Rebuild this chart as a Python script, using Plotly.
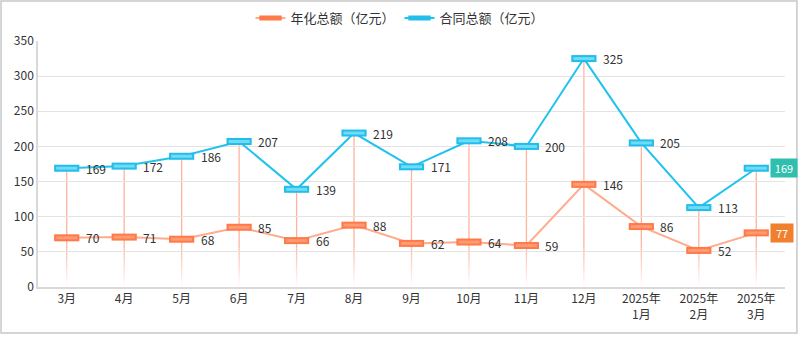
import plotly.graph_objects as go

categories = ["3月", "4月", "5月", "6月", "7月", "8月", "9月", "10月", "11月", "12月",
              "2025年<br>1月", "2025年<br>2月", "2025年<br>3月"]
annual_total = [70, 71, 68, 85, 66, 88, 62, 64, 59, 146, 86, 52, 77]
contract_total = [169, 172, 186, 207, 139, 219, 171, 208, 200, 325, 205, 113, 169]
name_annual = "年化总额（亿元）"
name_contract = "合同总额（亿元）"

FONT = "Noto Sans CJK SC, Microsoft YaHei, sans-serif"
ORANGE_LINE = "#ffab8e"
ORANGE_MK = "#ff7a4a"
ORANGE_FILL = "#ff9a72"
BLUE_LINE = "#1fc3ee"
BLUE_MK = "#22bde9"
BLUE_FILL = "#6fdcf7"

x = list(range(len(categories)))
fig = go.Figure()

# drop lines with fading bottom
shapes = []
for i, v in enumerate(contract_total):
    shapes.append(dict(type="line", xref="x", yref="y", x0=i, x1=i, y0=v, y1=60,
                       line=dict(color="#ffb39c", width=1.3), layer="below"))
    steps = 12
    for k in range(steps):
        y0 = 60 - k * 60 / steps
        y1 = 60 - (k + 1) * 60 / steps
        op = max(0.0, 1 - (k + 0.5) / steps)
        shapes.append(dict(type="line", xref="x", yref="y", x0=i, x1=i, y0=y0, y1=y1,
                           line=dict(color="#ffb39c", width=1.3), opacity=op, layer="below"))

# border
shapes.append(dict(type="rect", xref="paper", yref="paper", x0=-0.0495, x1=1.016,
                   y0=-0.187, y1=1.163, line=dict(color="#c8c8c8", width=1.5)))

for vals, name, lc, mk, fill in [(annual_total, name_annual, ORANGE_LINE, ORANGE_MK, ORANGE_FILL),
                                 (contract_total, name_contract, BLUE_LINE, BLUE_MK, BLUE_FILL)]:
    fig.add_trace(go.Scatter(x=x, y=vals, mode="lines+markers", name=name,
                             line=dict(color=lc, width=2),
                             marker=dict(symbol="line-ew", size=18,
                                         line=dict(color=mk, width=7)),
                             hoverinfo="skip"))
    fig.add_trace(go.Scatter(x=x, y=vals, mode="markers", showlegend=False,
                             marker=dict(symbol="line-ew", size=15,
                                         line=dict(color=fill, width=3)),
                             hoverinfo="skip"))

ann = []
for i in range(len(categories) - 1):
    for vals in (annual_total, contract_total):
        ann.append(dict(x=i, y=vals[i], xref="x", yref="y", text=str(vals[i]), showarrow=False,
                        xanchor="left", yanchor="middle", xshift=17,
                        font=dict(family=FONT, size=12, color="#333333")))
last = len(categories) - 1
ann.append(dict(x=last, y=contract_total[last], xref="x", yref="y", text=str(contract_total[last]),
                showarrow=False, xanchor="left", yanchor="middle", xshift=14,
                bgcolor="#2fbfae", width=24, height=16, borderpad=1,
                font=dict(family=FONT, size=11, color="white")))
ann.append(dict(x=last, y=annual_total[last], xref="x", yref="y", text=str(annual_total[last]),
                showarrow=False, xanchor="left", yanchor="middle", xshift=14,
                bgcolor="#f07f2e", width=20, height=16, borderpad=1,
                font=dict(family=FONT, size=11, color="white")))

fig.update_layout(
    width=800, height=342,
    margin=dict(l=38, r=15, t=41, b=55, autoexpand=False),
    paper_bgcolor="white", plot_bgcolor="white",
    font=dict(family=FONT, size=12, color="#333333"),
    showlegend=True,
    legend=dict(orientation="h", x=0.5, xanchor="center", xref="container",
                y=1 - 18 / 342, yanchor="middle", yref="container",
                font=dict(family=FONT, size=13, color="#333333"),
                traceorder="normal"),
    shapes=shapes, annotations=ann,
    xaxis=dict(tickmode="array", tickvals=x, ticktext=categories, range=[-0.5, len(categories) - 0.5],
               showgrid=False, showline=True, linecolor="#d9d9d9", linewidth=1.5, ticks="",
               zeroline=False, tickfont=dict(family=FONT, size=12, color="#333333")),
    yaxis=dict(range=[0, 350], dtick=50, showgrid=True, gridcolor="#e3e3e3", gridwidth=1.2,
               showline=True, linecolor="#d9d9d9", linewidth=1.5, zeroline=False, ticks="",
               tickfont=dict(family=FONT, size=12, color="#333333")),
)

fig.write_html("out.html")
